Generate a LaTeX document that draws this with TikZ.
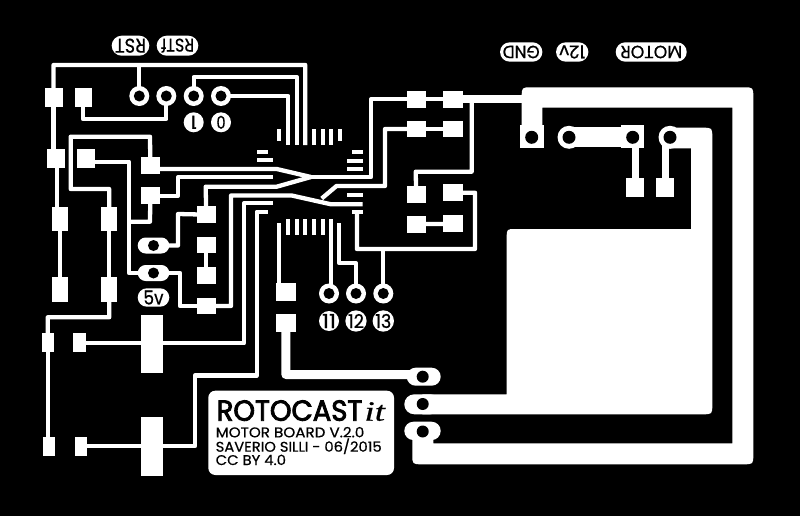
\documentclass[tikz,border=0pt]{standalone}
\usepackage{graphicx}
\usepackage{fontspec}
\setmainfont{Poppins}
\newfontfamily\serifit[ItalicFont={Liberation Serif Italic},ItalicFeatures={FakeBold=0.5}]{Liberation Serif}
\newfontfamily\medfont[FakeBold=0.6]{Poppins}
\newfontfamily\semifont[FakeBold=3]{Poppins}
\usetikzlibrary{shapes.misc}
\tikzset{
  padbox/.style={fill=white,inner sep=0,outer sep=0,rectangle},
  trace/.style={draw=white,line width=4.3pt,line join=round},
  thicktrace/.style={draw=white,line width=8pt,line join=round},
  ringdisc/.style={circle,fill=white,minimum size=20pt,inner sep=0,outer sep=0},
  hole/.style={circle,fill=black,minimum size=#1,inner sep=0,outer sep=0},
  hole/.default=11pt,
  pinrect/.style={fill=white},
  pill/.style={rounded rectangle,fill=white,text=black,inner sep=0,outer sep=0},
  numdot/.style={circle,fill=white,text=black,minimum size=20pt,inner sep=0,outer sep=0},
  logotext/.style={anchor=base west,text=black,inner sep=0,outer sep=0},
}
\newcommand{\mkpad}[5]{\node[padbox,minimum width={(#4-#2)*1pt},minimum height={(#5-#3)*1pt}] (#1) at ({(#2+#4)/2},{(#3+#5)/2}) {};}
\newcommand{\fit}[3]{\resizebox{#1pt}{#2pt}{\medfont #3}}
\newcommand{\capfit}[3]{\resizebox{#1pt}{#2pt}{\medfont\raisebox{0pt}[\fontcharht\font`M][0pt]{#3}}}
\begin{document}
\begin{tikzpicture}[x=1pt,y=-1pt]
\useasboundingbox (0,0) rectangle (800,516);
\fill[black] (0,0) rectangle (800,516);
% pads left
\mkpad{pa}{45}{87.7}{62.7}{107.3}
\mkpad{pb}{75}{87.7}{92.3}{107.3}
\mkpad{pc}{47.3}{149}{65}{168}
\mkpad{pd}{77.3}{149}{95}{168}
\mkpad{pe}{51.7}{206.7}{68.3}{231}
\mkpad{pf}{51.7}{277.3}{68.3}{301.7}
\mkpad{pi}{101}{206.7}{117.3}{231}
\mkpad{pj}{101}{277.3}{117.3}{301.7}
\mkpad{pg}{140.7}{157}{160}{174.3}
\mkpad{ph}{140.7}{187.3}{160}{204}
\mkpad{po}{196.7}{206}{215.7}{223.3}
\mkpad{pp}{196.7}{236.7}{215.7}{253.3}
\mkpad{pq}{196.7}{267.3}{215.7}{284.3}
\mkpad{pr}{196.7}{297.7}{215.7}{314.3}
\mkpad{pk}{41.7}{333.3}{53.7}{351.7}
\mkpad{pl}{73.3}{333.3}{85.7}{351.7}
\mkpad{pm}{42.7}{436.7}{54.7}{455.7}
\mkpad{pn}{74.7}{436.7}{87}{455.7}
\mkpad{bigA}{141}{315}{162.7}{373.3}
\mkpad{bigB}{141}{416.7}{162.7}{475.7}
\mkpad{ps}{276}{283.3}{295.7}{300.7}
\mkpad{pt}{276}{314}{295.7}{331.7}
% pads right
\mkpad{ra}{406.7}{90.7}{425.7}{107.7}
\mkpad{rb}{443.3}{90.7}{462.7}{107.7}
\mkpad{rc}{406.7}{120.7}{425.7}{137.3}
\mkpad{rd}{443.3}{120.7}{462.7}{137.3}
\mkpad{re}{406.7}{186}{425.7}{202.7}
\mkpad{rf}{443.3}{184.3}{462.7}{201}
\mkpad{rg}{406.7}{216}{425.7}{232.7}
\mkpad{rh}{443.3}{215}{462.7}{232}
\mkpad{mota}{626.3}{178.3}{644.3}{196.7}
\mkpad{motb}{656.3}{178.3}{674.3}{196.7}
% rings
\node[ringdisc] (c1) at (139.3,96) {};
\node[ringdisc] (c2) at (166.3,96) {};
\node[ringdisc] (c3) at (193.7,96) {};
\node[ringdisc] (c4) at (221,96) {};
\node[ringdisc] (c5) at (329,293.5) {};
\node[ringdisc] (c6) at (356,293.5) {};
\node[ringdisc] (c7) at (383.3,293.5) {};
% middle ovals
\node[rounded rectangle,fill=white,inner sep=0,minimum width=31.6pt,minimum height=16pt] (ov1) at (153.5,245.5) {};
\node[rounded rectangle,fill=white,inner sep=0,minimum width=31.6pt,minimum height=16pt] (ov2) at (153.5,273) {};
% power ovals
\node[rounded rectangle,fill=white,inner sep=0,minimum width=34pt,minimum height=18pt] (ov3) at (423.7,376.7) {};
\node[rounded rectangle,fill=white,inner sep=0,minimum width=36pt,minimum height=20pt] (ov4) at (422.3,404.3) {};
\node[rounded rectangle,fill=white,inner sep=0,minimum width=36.4pt,minimum height=18.4pt] (ov5) at (422.5,430.9) {};
% chip pads
\foreach \x/\ya in {279.3/140.7,288.3/145,296.7/145,305.3/145,314/145,322.7/145,331/145,340/140.7}
  \fill[pinrect] (\x-2,129) rectangle (\x+2,\ya);
\foreach \x/\ya in {288.3/219,296.7/219,305.3/219,314/219,322.7/219}
  \fill[pinrect] (\x-2,\ya) rectangle (\x+2,235);
\fill[pinrect] (257,150) rectangle (268,154);
\fill[pinrect] (257,158.3) rectangle (273,162.3);
\fill[pinrect] (351.7,150) rectangle (362.7,154);
\fill[pinrect] (346.7,158.7) rectangle (362.7,162.7);
\fill[pinrect] (346.7,167) rectangle (362.7,171);
\fill[pinrect] (346.7,192.7) rectangle (362.7,196.7);
\fill[pinrect] (351.7,209.7) rectangle (362.7,213.7);
% traces left
\draw[trace] ([xshift=-0.4pt]pa.center) -- (53.5,65) -- (305.3,65) -- (305.3,145);
\draw[trace] (c1.center) -- (139.3,65);
\draw[trace] (c3.center) -- (193.7,77) -- (296.7,77) -- (296.7,145);
\draw[trace] (c4.center) -- (288.3,96) -- (288.3,145);
\draw[trace] (c2.center) -- (166.3,119) -- (83,119) -- (83,100);
\draw[trace] (53.5,100) -- (53.5,158);
\draw[trace] (56.7,158) -- (56.7,218);
\draw[trace] (pe.center) -- (pf.center);
\draw[trace] ([yshift=-3.2pt]pd.center) -- (129,161.7) -- (129,273) -- (ov2.center);
\draw[trace] (129,221.7) -- (150,221.7) -- (ph.center);
\draw[trace] (pg.center) -- (150,136.7) -- (70.7,136.7) -- (70.7,189) -- (109.2,189) -- (pi.center);
\draw[trace] (pi.center) -- (pj.center);
\draw[trace] (pj.center) -- (109.2,317.3) -- (47.7,317.3) -- (pk.center);
\draw[trace] (pk.center) -- (47.7,446);
\draw[trace] ([yshift=-0.8pt]pl.center) -- (244,343.3) -- (244,203.3) -- (273,203.3);
\draw[trace] (pn.center) -- (195,446.2) -- (195,375.5) -- (256.7,375.5) -- (256.7,211.7) -- (268.3,211.7);
% traces into the chip
\draw[trace] ([yshift=-3.35pt]pg.center) -- (276.7,169) -- (311,177);
\draw[trace] (ph.center) -- (178,195.65) -- (178,177.3) -- (273,177.3);
\draw[trace] (po.center) -- (205.7,186.7) -- (276.7,186.7) -- (311,177);
\draw[trace] (pr.center) -- (231,306) -- (231,195.5) -- (291.7,195.5) -- (331,204.3) -- (362.7,204.3);
\draw[trace] (321.7,198.5) -- (336.5,186) -- (385,186) -- (385,129) -- (rc.center);
\draw[trace] (311,177) -- (371,177) -- (371,99.2) -- (ra.center);
\draw[trace] (ov1.center) -- (178,245.5) -- (178,214) -- (po.center);
\draw[trace] (ov2.center) -- (180,273) -- (180,306) -- (pr.center);
\draw[trace] (pp.center) -- (pq.center);
\draw[trace] (279.3,223.3) -- (279.3,290);
\draw[trace] (331,219) -- (331,285);
\draw[trace] (339.3,223.3) -- (339.3,263.3) -- (356,263.3) -- (c6.center);
\draw[trace] (356.9,211.7) -- (356.9,249) -- (475,249) -- (475,192.7) -- (rf.center);
\draw[trace] (383.3,249) -- (c7.center);
% traces right
\draw[trace] (ra.center) -- (rb.center);
\draw[trace] (rc.center) -- (rd.center);
\draw[trace] (rg.center) -- (425.7,224) -- (443.3,224) -- (rh.center);
\draw[trace] (rb.center) -- (471.7,99.2) -- (471.7,171.7) -- (415.7,171.7) -- (re.center);
\draw[thicktrace] (rb.center) -- (530,99.2);
\draw[line width=9pt,draw=white,line join=round] (pt.center) -- (285.8,374.5) -- (423,374.5);
% motor traces
\draw[draw=white,line width=7pt] (mota.center) -- (635.3,140);
\draw[draw=white,line width=7pt] (motb.center) -- (665.3,140);
% power planes
\fill[white] (521.7,97.3) .. controls (521.7,87.3) .. (531.7,87.3) -- (743.3,87.3)
  .. controls (753.3,87.3) .. (753.3,97.3) -- (753.3,454.3)
  .. controls (753.3,464.3) .. (743.3,464.3) -- (422.3,464.3)
  .. controls (412.3,464.3) .. (412.3,454.3) -- (412.3,435) -- (433.3,435) -- (433.3,443.3)
  -- (732.3,443.3) -- (732.3,107.7) -- (542.3,107.7) -- (542.3,130) -- (521.7,130) -- cycle;
\fill[white] (520,125) rectangle (544,148.3);
\fill[white] (506.7,238) .. controls (506.7,229) .. (515.7,229) -- (691,229) -- (691,148.3)
  -- (665,148.3) -- (665,127.7) -- (702.3,127.7) .. controls (712.3,127.7) .. (712.3,137.7)
  -- (712.3,404.3) .. controls (712.3,414.3) .. (702.3,414.3) -- (422.3,414.3) -- (422.3,394.3)
  -- (506.7,394.3) -- cycle;
\node[circle,fill=white,inner sep=0,minimum size=23pt] (mh) at (670,137.3) {};
\node[circle,fill=white,inner sep=0,minimum size=23pt] (mi) at (569,137.3) {};
\fill[white] (569,126.7) rectangle (622,146.7);
\fill[white] (620.7,125) rectangle (644.3,148.3);
% holes
\foreach \n/\p in {c1,c2,c3,c4,c5,c6,c7}
  \node[hole=11pt] (\n h) at (\n.center) {};
\node[hole=11pt] (hov1) at (ov1.center) {};
\node[hole=11pt] (hov2) at (ov2.center) {};
\node[hole=12pt] (hov3) at (422.7,376.7) {};
\node[hole=12pt] (hov4) at (422.7,404) {};
\node[hole=12pt] (hov5) at (422.7,431.5) {};
\node[hole=13pt] (hgnd) at (531.7,137.3) {};
\node[hole=13pt] (hm1) at (569,137.3) {};
\node[hole=13pt] (hm2) at (632.7,137.3) {};
\node[hole=13pt] (hm3) at (670,137.3) {};
% labels
\node[pill,rotate=180,minimum width=42.3pt,minimum height=19.4pt] (lgnd) at (521.2,52) {\fit{37}{12.5}{GND}};
\node[pill,rotate=180,minimum width=32.3pt,minimum height=19.4pt] (l12) at (572.2,52) {\fit{26}{13}{12v}};
\node[pill,rotate=180,minimum width=71pt,minimum height=19.4pt] (lmot) at (651.2,52) {\fit{62}{12.5}{MOTOR}};
\node[pill,rotate=180,minimum width=37.6pt,minimum height=20pt] (lrst) at (130.5,45.7) {\fit{31}{14}{RST}};
\node[pill,rotate=180,minimum width=41.6pt,minimum height=20pt] (lrstf) at (177.5,45.7) {\fit{33}{14}{RSTf}};
\node[numdot,rotate=180] (n1) at (193.7,122.3) {\fit{6}{13}{1}};
\node[numdot,rotate=180] (n0) at (221,122.3) {\fit{9}{13}{0}};
\node[numdot] (n11) at (329,321) {\fit{14}{14}{11}};
\node[numdot] (n12) at (356,321) {\fit{16}{14}{12}};
\node[numdot] (n13) at (383.3,321) {\fit{16}{14}{13}};
\node[rounded rectangle,fill=white,text=black,inner sep=0,minimum width=31.6pt,minimum height=18.4pt] (n5v) at (153.5,297.5) {\fit{20}{14}{5v}};
% logo
\fill[white,rounded corners=7pt] (208.3,390.7) rectangle (394,475);
\node[logotext] (lg1) at (216.7,420.7) {\resizebox{145.6pt}{20.4pt}{\semifont ROTOCAST}};
\node[logotext] (lg2) at (364.5,420.7) {\resizebox{20.5pt}{18.5pt}{\serifit\itshape it}};
\node[logotext] (lg3) at (215.7,437.3) {\capfit{148.6}{9.8}{MOTOR BOARD V.2.0}};
\node[logotext] (lg4) at (215.7,451.7) {\capfit{166}{9.8}{SAVERIO SILLI - 06/2015}};
\node[logotext] (lg5) at (215.7,465) {\capfit{70.3}{9.8}{CC BY 4.0}};
\end{tikzpicture}
\end{document}
